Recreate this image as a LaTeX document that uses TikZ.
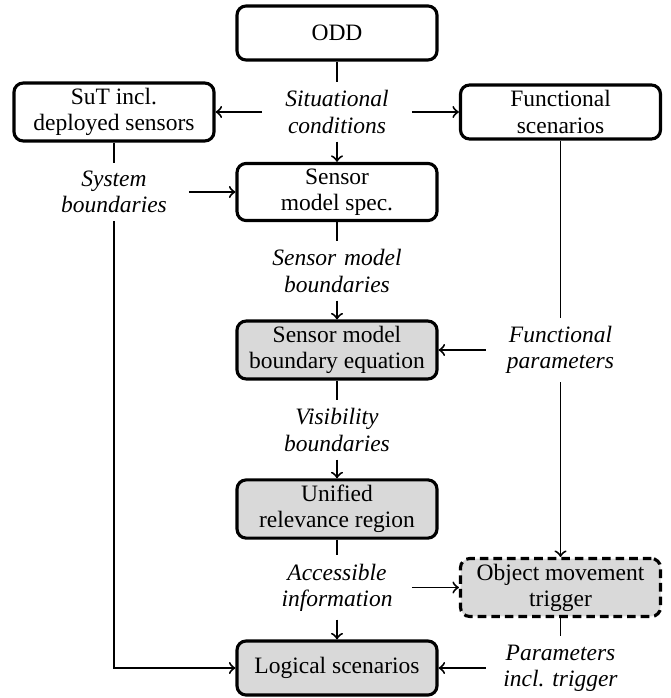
\documentclass[tikz,border=0pt]{standalone}
\usepackage{fontspec}
\setmainfont{Liberation Serif}
\tikzset{
  box/.style={draw, line width=1.2pt, rounded corners=3.5pt, minimum width=76.6pt, minimum height=20.7pt,
    inner xsep=3pt, inner ysep=2pt, align=center, font=\fontsize{9}{10}\selectfont},
  greybox/.style={box, fill=black!15},
  dashbox/.style={greybox, dash pattern=on 3.3pt off 1.9pt},
  lab/.style={text width=51pt, inner sep=3pt, align=center, font=\fontsize{9}{10}\selectfont\itshape},
  conn/.style={line width=0.75pt},
  arr/.style={conn, ->},
}
\begin{document}
\begin{tikzpicture}[x=0.383pt,y=-0.383pt]
\useasboundingbox (0,0) rectangle (670,698);
% boxes
\node[box] (odd) at (337,33) {ODD};
\node[box] (sut) at (114,112) {SuT incl.\\deployed sensors};
\node[box] (fs) at (560.5,112) {Functional\\scenarios};
\node[box] (spec) at (337,192) {Sensor\\model spec.};
\node[greybox] (beq) at (337,350) {Sensor model\\boundary equation};
\node[greybox] (uni) at (337,509) {Unified\\relevance region};
\node[dashbox] (obj) at (560.5,587.5) {Object movement\\trigger};
\node[greybox] (log) at (337,668) {Logical scenarios};
% labels
\node[lab] (sit) at (337,112) {Situational conditions};
\node[lab] (sys) at (114,192) {System boundaries};
\node[lab] (smb) at (337,271) {Sensor model boundaries};
\node[lab] (fp) at (560.5,350) {Functional parameters};
\node[lab] (vis) at (337,430) {Visibility boundaries};
\node[lab] (acc) at (337,587.5) {Accessible information};
\node[lab] (par) at (560.5,668) {Parameters incl.\ trigger};
% connectors
\draw[conn] (odd) -- (sit);
\draw[arr] (sit) -- (sut);
\draw[arr] (sit) -- (fs);
\draw[arr] (sit) -- (spec);
\draw[conn] (sut) -- (sys);
\draw[arr] (sys) -- (spec);
\draw[arr] (sys.south) |- (log);
\draw[conn] (spec) -- (smb);
\draw[arr] (smb) -- (beq);
\draw[conn] (fs) -- (fp);
\draw[arr] (fp) -- (beq);
\draw[arr] (fp) -- (obj);
\draw[conn] (beq) -- (vis);
\draw[arr] (vis) -- (uni);
\draw[conn] (uni) -- (acc);
\draw[arr] (acc) -- (obj);
\draw[arr] (acc) -- (log);
\draw[conn] (obj) -- (par);
\draw[arr] (par) -- (log);
\end{tikzpicture}
\end{document}
